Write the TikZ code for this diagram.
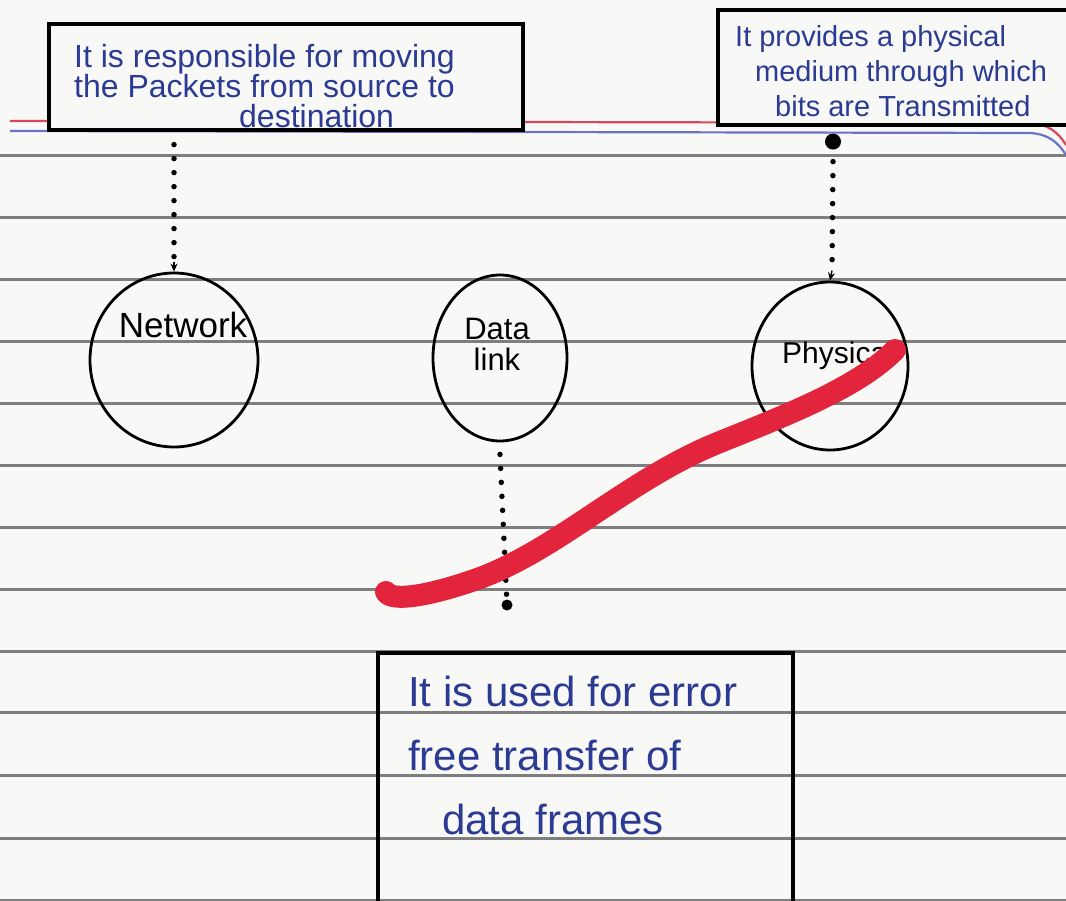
\documentclass[tikz,border=0pt]{standalone}
\usepackage{fontspec}
\setmainfont{Liberation Sans}
\usetikzlibrary{calc,arrows.meta,shapes.geometric}
\definecolor{ink}{HTML}{2B3A93}
\definecolor{rulegray}{HTML}{7E7E7E}
\definecolor{marker}{HTML}{E2253C}
\definecolor{paper}{HTML}{F8F8F6}
\definecolor{marginred}{HTML}{D9475F}
\definecolor{marginblue}{HTML}{6A73C9}
\begin{document}
\begin{tikzpicture}[x=1pt,y=-1pt,
  ruleline/.style={rulegray, line width=3pt},
  notebox/.style={draw=black, line width=3.2pt, rectangle, inner sep=0pt},
  notetext/.style={ink, align=left, inner sep=0pt},
  layer/.style={draw=black, line width=2.8pt, ellipse, inner sep=0pt},
  layertext/.style={black, align=center, inner sep=0pt},
  dotline/.style={black, line width=5.5pt, line cap=round, dash pattern=on 0pt off 14pt},
  hook/.style={black, line width=1.4pt, -{Stealth[length=8pt,width=7pt]}}
]
\useasboundingbox (0,0) rectangle (1066,901);
\clip (0,0) rectangle (1066,901);
\fill[paper] (0,0) rectangle (1066,901);
% ruled lines
\foreach \yy in {156,218,280,342,403,465,527,589,651,712,775,838,900}
  \draw[ruleline] (0,\yy) -- (1066,\yy);
% margin lines
\draw[marginred, line width=2.2pt] (10,121) -- (1030,123) .. controls (1048,124) and (1058,132) .. (1066,145);
\draw[marginblue, line width=2.2pt] (10,131) -- (1030,133) .. controls (1048,134) and (1058,142) .. (1066,155);

% boxes
\node[notebox, fill=paper, minimum width=474pt, minimum height=106pt] (box1) at (286,77) {};
\node[notetext, anchor=base west, font=\fontsize{32}{30}\selectfont] (box1text) at (74,128)
  {It is responsible for moving\\the Packets from source to\\\hspace*{165pt}destination};
\node[notebox, fill=paper, minimum width=350pt, minimum height=115pt] (box2) at (893,67.5) {};
\node[notetext, anchor=base west, font=\fontsize{29}{35}\selectfont] (box2text) at (735,117)
  {It provides a physical\\\hspace*{20pt}medium through which\\\hspace*{40pt}bits are Transmitted};
\node[notebox, minimum width=415pt, minimum height=262pt] (box3) at (585.5,784) {};
\node[notetext, anchor=base west, font=\fontsize{42}{64}\selectfont] (box3text) at (408,834)
  {It is used for error\\free transfer of\\\hspace*{34pt}data frames};

% layers
\node[layer, minimum width=168pt, minimum height=174pt] (net) at (174,360) {};
\node[layertext, font=\fontsize{35}{40}\selectfont] (netlbl) at (183,325) {Network};
\node[layer, minimum width=134pt, minimum height=166pt] (dl) at (500,358) {};
\node[layertext, font=\fontsize{31}{31}\selectfont] (dllbl) at (497,344) {Data\\link};
\node[layer, minimum width=156pt, minimum height=168pt] (phy) at (830,366) {};
\node[layertext, anchor=west, font=\fontsize{30}{36}\selectfont] (phylbl) at (782,356) {Physical};

% connectors
\coordinate (netstart) at ($(net.north |- box1.south)+(0,13)$);
\draw[dotline] (netstart) -- ($(net.north)+(0,-6)$);
\draw[hook] ($(net.north)+(0,-10)$) -- (net.north);
\coordinate (phystart) at ($(phy.north |- box2.south)+(3,15)$);
\fill[black] (phystart) circle (8pt);
\draw[dotline] ($(phystart)+(0,20)$) -- ($(phy.north)+(2,-10)$);
\draw[hook] ($(phy.north)+(2,-10)$) -- (phy.north);
\coordinate (dlend) at (507,605);
\draw[dotline] ($(dl.south)+(0,12)$) -- (dlend);
\fill[black] (dlend) circle (5.5pt);

% red marker stroke
\draw[marker, line width=22pt, line cap=round, line join=round]
  (386,592) .. controls (392,602) and (430,596) .. (480,578)
  .. controls (560,548) and (630,478) .. (720,442)
  .. controls (800,410) and (860,385) .. (895,350);
\end{tikzpicture}
\end{document}
